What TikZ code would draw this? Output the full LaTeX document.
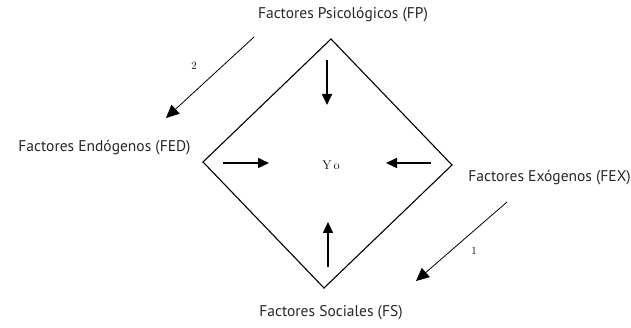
\documentclass[tikz,border=0pt]{standalone}
\usepackage{fontspec}
\setsansfont{PT Sans}
\usetikzlibrary{arrows.meta}
\tikzset{
  lbl/.style={font=\sffamily\fontsize{15.5}{17}\selectfont, inner sep=0pt, text=black!85},
  innerarrow/.style={line width=1.6pt, -{Triangle[length=11pt,width=10pt]}},
  diagarrow/.style={line width=0.8pt, -{Triangle[length=13pt,width=12pt]}},
  numlbl/.style={font=\fontsize{11}{12}\selectfont, inner sep=0pt}
}
\begin{document}
\begin{tikzpicture}[x=1pt,y=-1pt]
\useasboundingbox (0,0) rectangle (631,328);
% diamond corners
\coordinate (T) at (331,39);
\coordinate (L) at (203,162);
\coordinate (R) at (452,165);
\coordinate (B) at (324,288);
\draw[line width=1.1pt, line join=miter] (T) -- (R) -- (B) -- (L) -- cycle;
% center
\node[font=\fontsize{12.5}{14}\selectfont, inner sep=0pt] (yo) at (331,165) {Y\kern2pt o};
% inner arrows
\coordinate (ta) at (327,60); \coordinate (tb) at (327,105);
\coordinate (ba) at (328,267); \coordinate (bb) at (328,222);
\coordinate (la) at (223,163); \coordinate (lb) at (269,163);
\coordinate (ra) at (431,163); \coordinate (rb) at (386,163);
\draw[innerarrow] (ta) -- (tb);
\draw[innerarrow] (ba) -- (bb);
\draw[innerarrow] (la) -- (lb);
\draw[innerarrow] (ra) -- (rb);
% labels
\node[lbl] (fp) at (343,15) {Factores Psicológicos (FP)};
\node[lbl] (fed) at (104.5,148) {Factores Endógenos (FED)};
\node[lbl] (fex) at (549.5,178) {Factores Exógenos (FEX)};
\node[lbl] (fs) at (331,313) {Factores Sociales (FS)};
% diagonal arrows
\coordinate (d2a) at (254,37); \coordinate (d2b) at (166,118);
\coordinate (d1a) at (507,202); \coordinate (d1b) at (416,281);
\draw[diagarrow] (d2a) -- (d2b);
\draw[diagarrow] (d1a) -- (d1b);
\node[numlbl] (n2) at (194,66) {2};
\node[numlbl] (n1) at (474,251) {1};
\end{tikzpicture}
\end{document}
